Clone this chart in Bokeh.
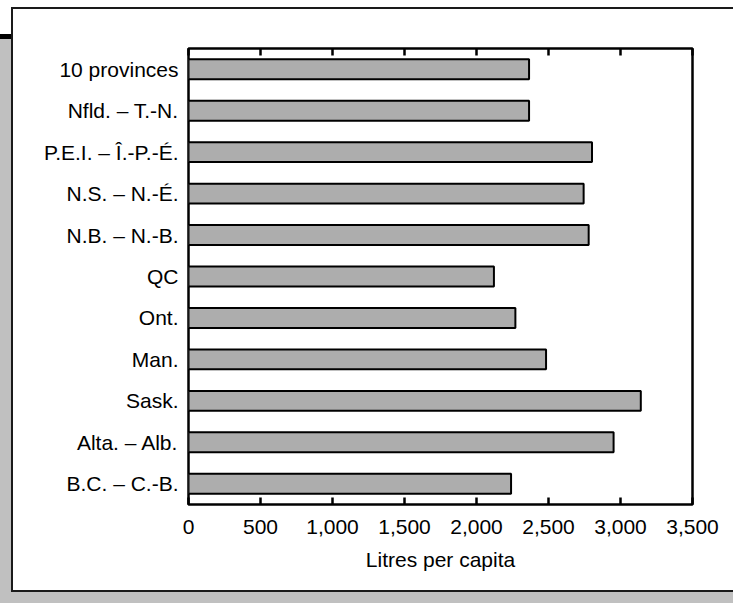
from bokeh.plotting import figure
from bokeh.models import FactorRange, Range1d, LinearAxis, SingleIntervalTicker, NumeralTickFormatter
from bokeh.embed import file_html
from bokeh.resources import INLINE

categories = ["10 provinces", "Nfld. – T.-N.", "P.E.I. – Î.-P.-É.", "N.S. – N.-É.", "N.B. – N.-B.",
              "QC", "Ont.", "Man.", "Sask.", "Alta. – Alb.", "B.C. – C.-B."]
litres = [2365, 2365, 2802, 2744, 2779, 2121, 2270, 2483, 3141, 2952, 2240]
x_label = "Litres per capita"

FONT = "Liberation Sans"
FS = "21px"

bg = ("linear-gradient(#1a1a1a,#1a1a1a) 11px 7px / 900px 2px no-repeat, "
      "linear-gradient(#1a1a1a,#1a1a1a) 11px 7px / 2px 585px no-repeat, "
      "linear-gradient(#1a1a1a,#1a1a1a) 11px 590px / 900px 2px no-repeat, "
      "linear-gradient(#ffffff,#ffffff) 13px 9px / 900px 581px no-repeat, "
      "linear-gradient(#c0c0c0,#c0c0c0) 0px 39px / 900px 900px no-repeat, "
      "linear-gradient(#000000,#000000) 0px 34px / 900px 5px no-repeat, #ffffff")

p = figure(width=733, height=603, output_backend="svg", toolbar_location=None,
           y_range=FactorRange(factors=list(reversed(categories))),
           x_range=Range1d(0, 3500),
           min_border_left=188, min_border_right=41, min_border_top=48, min_border_bottom=99,
           border_fill_color=None, background_fill_color="white",
           outline_line_color="black", outline_line_width=2.5,
           styles={"background": bg})

p.hbar(y=categories, right=litres, left=0, height=0.48,
       fill_color="#adadad", line_color="black", line_width=2)

p.xgrid.visible = False
p.ygrid.visible = False

xa = p.xaxis[0]
xa.ticker = SingleIntervalTicker(interval=500, num_minor_ticks=0)
xa.formatter = NumeralTickFormatter(format="0,0")
xa.axis_line_color = None
xa.major_tick_in = 7
xa.major_tick_out = 0
xa.major_tick_line_width = 2.5
xa.major_tick_line_color = "black"
xa.minor_tick_line_color = None
xa.major_label_text_font = FONT
xa.major_label_text_font_size = FS
xa.major_label_text_color = "black"
xa.major_label_standoff = 15
xa.axis_label = x_label
xa.axis_label_text_font = FONT
xa.axis_label_text_font_size = FS
xa.axis_label_text_font_style = "normal"
xa.axis_label_text_color = "black"
xa.axis_label_standoff = 11

top = LinearAxis(ticker=SingleIntervalTicker(interval=500, num_minor_ticks=0))
top.axis_line_color = None
top.major_tick_in = 7
top.major_tick_out = 0
top.major_tick_line_width = 2.5
top.major_tick_line_color = "black"
top.minor_tick_line_color = None
top.major_label_text_font_size = "0px"
top.major_label_text_color = None
p.add_layout(top, "above")

ya = p.yaxis[0]
ya.axis_line_color = None
ya.major_tick_line_color = None
ya.minor_tick_line_color = None
ya.major_tick_in = 0
ya.major_tick_out = 0
ya.major_label_standoff = 10
ya.major_label_text_font = FONT
ya.major_label_text_font_size = FS
ya.major_label_text_color = "black"

open("out.html", "w").write(file_html(p, INLINE))
